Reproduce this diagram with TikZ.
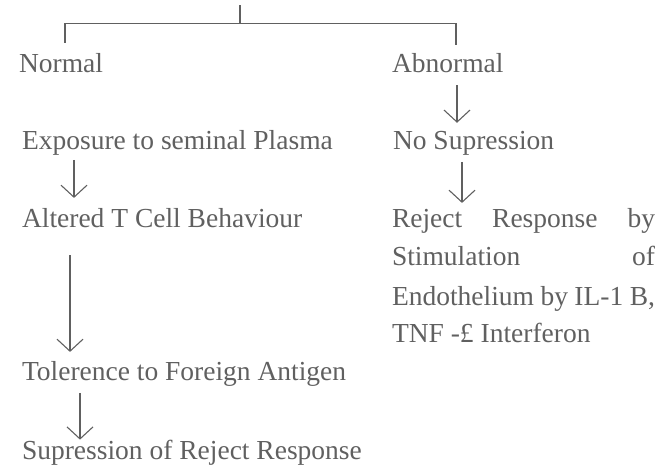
\documentclass[tikz,border=0pt]{standalone}
\usepackage{fontspec}
\setmainfont{Liberation Serif}
\usetikzlibrary{arrows.meta,calc}
\definecolor{ink}{HTML}{606060}
\begin{document}
\begin{tikzpicture}[x=1pt,y=-1pt,
  txt/.style={anchor=base west,inner sep=0pt,outer sep=0pt,text=ink,font=\fontsize{27.5}{33}\selectfont},
  ln/.style={draw=ink,line width=1.1pt},
  arr/.style={ln,-{Straight Barb[length=12pt,width=26pt,line width=1.1pt]}}]
\useasboundingbox (0,0) rectangle (663,466);
% nodes
\node[txt] (norm) at (19,72) {Normal};
\node[txt] (abn) at (392,72) {Abnormal};
\node[txt] (exp) at (22,149) {Exposure to seminal Plasma};
\node[txt] (nosup) at (393,149) {No Supression};
\node[txt] (alt) at (22,227) {Altered T Cell Behaviour};
\node[txt] (rej) at (392,227) {\makebox[263pt][s]{Reject Response by}};
\node[txt] (stim) at (392,265) {\makebox[263pt][s]{Stimulation of}};
\node[txt] (endo) at (392,305) {\makebox[263pt][s]{Endothelium by IL-1 B,}};
\node[txt] (tnf) at (392,342) {TNF -£ Interferon};
\node[txt] (tol) at (22,380) {Tolerence to Foreign Antigen};
\node[txt] (sup) at (22,459) {Supression of Reject Response};
% top branch
\coordinate (top) at (240,5);
\draw[ln] (top) -- (top |- 0,24);
\draw[ln] ($(norm.north west)+(46,-10)$) |- ($(abn.north west)+(64,-29)$) -- ($(abn.north west)+(64,-8)$);
% arrows
\draw[arr] ($(abn.south west)+(65,13)$) -- ($(nosup.north west)+(64,-8)$);
\draw[arr] ($(nosup.south west)+(69,7)$) -- ($(rej.north west)+(70,-5)$);
\draw[arr] ($(exp.south west)+(52,5)$) -- ($(alt.north west)+(52,-10)$);
\draw[arr] ($(alt.south west)+(48,28)$) -- ($(tol.north west)+(48,-9)$);
\draw[arr] ($(tol.south west)+(58,7)$) -- ($(sup.north west)+(58,0)$);
\end{tikzpicture}
\end{document}
